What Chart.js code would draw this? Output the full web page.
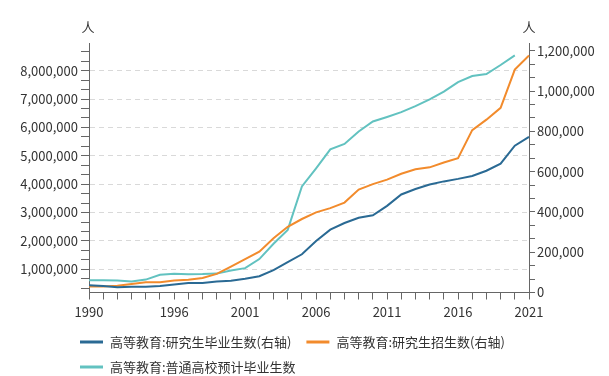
<!DOCTYPE html>
<html>
<head>
<meta charset="utf-8">
<script src="https://cdn.jsdelivr.net/npm/chart.js@4.4.1/dist/chart.umd.min.js"></script>
<style>
  html, body { margin: 0; padding: 0; background: #fff; }
  #wrap { width: 609px; height: 376px; }
</style>
</head>
<body>
<div id="wrap"><canvas id="eduChart" width="609" height="376"></canvas></div>
<script>
const years = ["1990", "1991", "1992", "1993", "1994", "1995", "1996", "1997", "1998", "1999",
    "2000", "2001", "2002", "2003", "2004", "2005", "2006", "2007", "2008", "2009",
    "2010", "2011", "2012", "2013", "2014", "2015", "2016", "2017", "2018", "2019",
    "2020", "2021"];
const xLabels = ["1990", "1996", "2001", "2006", "2011", "2016", "2021"];

// right axis
const gradGraduates = [35440, 32537, 25692, 28214, 28047, 31877, 39652, 46539, 47077, 54670,
    58767, 67809, 80841, 111091, 150777, 189728, 255902, 311839, 344825, 371273,
    383600, 429994, 486455, 513626, 535863, 551522, 563938, 578045, 604368, 639666,
    728627, 772761];
const gradEnrolled = [29649, 29679, 33439, 42145, 50864, 51053, 59398, 63749, 72508, 92225,
    128484, 165197, 202611, 268925, 326286, 364831, 397925, 418612, 446422, 510953,
    538177, 560168, 589673, 611381, 621323, 645055, 667064, 806103, 857966, 916503,
    1106551, 1176526];
// left axis
const collegeGraduates = [614000, 614000, 604000, 571000, 637000, 805000, 839000, 829000, 830000, 848000,
    960000, 1040000, 1360000, 1900000, 2390000, 3920000, 4560000, 5230000, 5420000, 5860000,
    6210000, 6370000, 6540000, 6750000, 6990000, 7260000, 7600000, 7810000, 7880000, 8200000,
    8540000, null];

const leftTicks = [1000000, 2000000, 3000000, 4000000, 5000000, 6000000, 7000000, 8000000];
const rightTicks = [0, 200000, 400000, 600000, 800000, 1000000, 1200000];
const unitLeft = "人";
const unitRight = "人";

const LEFT_MIN = 182000, LEFT_MAX = 8959000;
const RIGHT_MIN = 0, RIGHT_MAX = 1236000;

const FONT = '"Noto Sans CJK SC", "Noto Sans", sans-serif';
const AXIS = "#666";
const TEXT = "#333";

// major ticks plus 2 minor ticks between each pair
function withMinor(majors, min, max) {
    const step = majors[1] - majors[0];
    const out = [];
    for (let m = majors[0] - step; m <= majors[majors.length - 1] + step; m += step) {
        for (let j = 0; j < 3; j++) {
            const v = j === 0 ? m : m + (j * step) / 3;
            if (v >= min && v <= max) out.push({ value: v });
        }
    }
    return out;
}

const fmt = (v) => v.toLocaleString("en-US");

const extras = {
    id: "extras",
    afterDraw(chart) {
        const ctx = chart.ctx;
        const { y, y1 } = chart.scales;
        ctx.save();
        ctx.font = "13px " + FONT;
        ctx.fillStyle = TEXT;
        ctx.textAlign = "center";
        ctx.textBaseline = "middle";
        ctx.fillText(unitLeft, y.right - 1, 27);
        ctx.fillText(unitRight, y1.left, 27);

        // legend
        const rows = [[0, 1], [2]];
        const rowY = [342, 367];
        ctx.textAlign = "left";
        rows.forEach((row, r) => {
            let x = 80;
            row.forEach((i) => {
                const ds = chart.data.datasets[i];
                ctx.strokeStyle = ds.borderColor;
                ctx.lineWidth = 3;
                ctx.beginPath();
                ctx.moveTo(x, rowY[r]);
                ctx.lineTo(x + 23, rowY[r]);
                ctx.stroke();
                ctx.fillStyle = TEXT;
                ctx.fillText(ds.label, x + 30, rowY[r]);
                x += 30 + ctx.measureText(ds.label).width + 15;
            });
        });
        ctx.restore();
    },
};

new Chart(document.getElementById("eduChart"), {
    type: "line",
    data: {
        labels: years,
        datasets: [
            {
                label: "高等教育:研究生毕业生数(右轴)",
                data: gradGraduates,
                yAxisID: "y1",
                borderColor: "#2a6a94",
                borderWidth: 2,
                pointRadius: 0,
                tension: 0,
            },
            {
                label: "高等教育:研究生招生数(右轴)",
                data: gradEnrolled,
                yAxisID: "y1",
                borderColor: "#f28b2c",
                borderWidth: 2,
                pointRadius: 0,
                tension: 0,
            },
            {
                label: "高等教育:普通高校预计毕业生数",
                data: collegeGraduates,
                yAxisID: "y",
                borderColor: "#62c2c0",
                borderWidth: 2,
                pointRadius: 0,
                tension: 0,
                spanGaps: false,
            },
        ],
    },
    options: {
        responsive: false,
        animation: false,
        layout: {
            padding: { top: 43.5, bottom: 43.5, left: 0, right: 0 },
        },
        plugins: {
            legend: { display: false },
            tooltip: { enabled: false },
        },
        scales: {
            x: {
                type: "category",
                offset: false,
                afterFit: (s) => { s.height = 40; },
                grid: {
                    drawOnChartArea: false,
                    tickLength: 7,
                    tickColor: AXIS,
                },
                border: { color: AXIS },
                ticks: {
                    autoSkip: false,
                    maxRotation: 0,
                    padding: 5,
                    color: TEXT,
                    font: { family: FONT, size: 13 },
                    callback: (v, i) => (xLabels.includes(years[i]) ? years[i] : ""),
                },
            },
            y: {
                position: "left",
                min: LEFT_MIN,
                max: LEFT_MAX,
                afterFit: (s) => { s.width = 89; },
                afterBuildTicks: (s) => { s.ticks = withMinor(leftTicks, LEFT_MIN, LEFT_MAX); },
                grid: {
                    tickLength: 8,
                    tickColor: AXIS,
                    color: (c) => (c.tick && leftTicks.includes(c.tick.value) ? "#d9d9d9" : "rgba(0,0,0,0)"),
                },
                border: { color: AXIS, dash: [5, 4] },
                ticks: {
                    autoSkip: false,
                    padding: 3,
                    color: TEXT,
                    font: { family: FONT, size: 13 },
                    callback: (v) => (leftTicks.includes(v) ? fmt(v) : ""),
                },
            },
            y1: {
                position: "right",
                min: RIGHT_MIN,
                max: RIGHT_MAX,
                afterFit: (s) => { s.width = 80; },
                afterBuildTicks: (s) => { s.ticks = withMinor(rightTicks, RIGHT_MIN, RIGHT_MAX); },
                grid: {
                    drawOnChartArea: false,
                    tickLength: 6,
                    tickColor: AXIS,
                },
                border: { color: AXIS },
                ticks: {
                    autoSkip: false,
                    padding: 2,
                    color: TEXT,
                    font: { family: FONT, size: 13 },
                    callback: (v) => (rightTicks.includes(v) ? fmt(v) : ""),
                },
            },
        },
    },
    plugins: [extras],
});
</script>
</body>
</html>
